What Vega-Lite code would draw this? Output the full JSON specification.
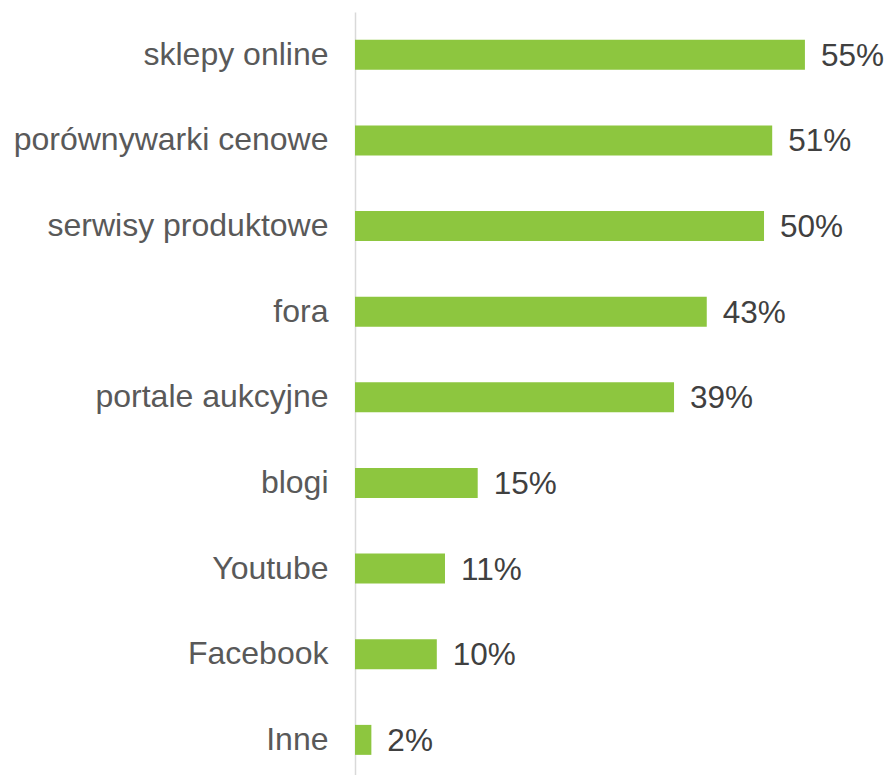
{
  "$schema": "https://vega.github.io/schema/vega-lite/v6.json",
  "autosize": "none",
  "padding": {"left": 355, "top": 12, "right": 0, "bottom": 0},
  "width": 535,
  "height": 763,
  "background": "white",
  "data": {
    "values": [
      {"kategoria": "sklepy online", "wartosc": 0.55},
      {"kategoria": "porównywarki cenowe", "wartosc": 0.51},
      {"kategoria": "serwisy produktowe", "wartosc": 0.50},
      {"kategoria": "fora", "wartosc": 0.43},
      {"kategoria": "portale aukcyjne", "wartosc": 0.39},
      {"kategoria": "blogi", "wartosc": 0.15},
      {"kategoria": "Youtube", "wartosc": 0.11},
      {"kategoria": "Facebook", "wartosc": 0.10},
      {"kategoria": "Inne", "wartosc": 0.02}
    ]
  },
  "encoding": {
    "y": {
      "field": "kategoria",
      "type": "nominal",
      "sort": null,
      "scale": {"paddingInner": 0.65, "paddingOuter": 0.28, "align": 0.58},
      "axis": {
        "title": null,
        "ticks": false,
        "domainColor": "#d9d9d9",
        "domainWidth": 1.5,
        "labelFont": "Liberation Sans",
        "labelFontSize": 32,
        "labelColor": "#595959",
        "labelPadding": 27,
        "labelLimit": 400
      }
    },
    "x": {
      "field": "wartosc",
      "type": "quantitative",
      "scale": {"domain": [0, 0.654], "nice": false},
      "axis": null
    }
  },
  "layer": [
    {"mark": {"type": "bar", "color": "#8dc63f"}},
    {
      "mark": {
        "type": "text",
        "align": "left",
        "baseline": "middle",
        "dx": 16,
        "dy": 2,
        "font": "Liberation Sans",
        "fontSize": 31.5,
        "color": "#404040"
      },
      "encoding": {"text": {"field": "wartosc", "type": "quantitative", "format": ".0%"}}
    }
  ],
  "config": {"view": {"stroke": null}}
}
